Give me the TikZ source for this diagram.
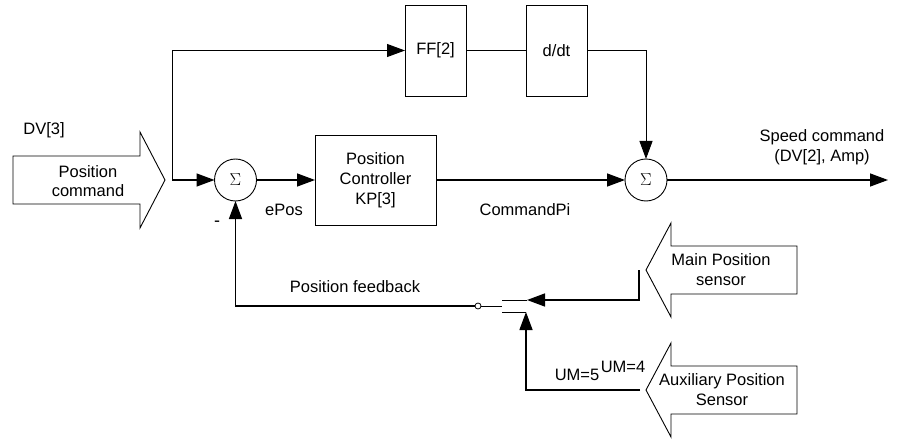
\documentclass[tikz,border=0pt]{standalone}
\usepackage{fontspec}
\setmainfont{Liberation Sans}
\newfontfamily\sigmafont{Liberation Serif}
\usetikzlibrary{arrows.meta}
\tikzset{
 lbl/.style={font=\fontsize{16.5}{20}\selectfont, inner sep=0pt, align=center},
 blk/.style={draw, line width=0.9pt, inner sep=0pt, outer sep=0pt, font=\fontsize{16.5}{20}\selectfont, align=center},
 sumnode/.style={draw, circle, line width=0.9pt, minimum size=42pt, inner sep=0pt, outer sep=0pt, font=\sigmafont\fontsize{19}{19}\selectfont},
 wire/.style={line width=1.4pt},
 thinwire/.style={line width=1pt},
 arr/.style={-{Triangle[length=18pt,width=13pt]}},
 bigarrow/.style={draw, line width=0.9pt, line join=miter},
 pivot/.style={draw, circle, minimum size=6pt, inner sep=0pt, outer sep=0pt, line width=0.8pt, fill=white},
}
\begin{document}
\begin{tikzpicture}[x=1pt,y=-1pt]
\useasboundingbox (0,0) rectangle (897,441);
% big input/sensor arrows
\draw[bigarrow] (13,156) -- (140,156) -- (140,132) -- (165,180) -- (140,228) -- (140,204) -- (13,204) -- cycle;
\node[lbl, font=\fontsize{16.5}{18.5}\selectfont] (pcmd) at (88,181) {Position\\command};
\draw[bigarrow] (797,246) -- (671,246) -- (671,223) -- (646,270) -- (671,317) -- (671,294) -- (797,294) -- cycle;
\node[lbl] (mainsens) at (721,270) {Main Position\\sensor};
\draw[bigarrow] (797,366) -- (671,366) -- (671,343) -- (646,390) -- (671,437) -- (671,414) -- (797,414) -- cycle;
\node[lbl] (auxsens) at (722,390) {Auxiliary Position\\Sensor};
% blocks
\node[blk, minimum width=61pt, minimum height=91pt] (ff) at (435.5,50.5) {FF[2]};
\node[blk, minimum width=61pt, minimum height=91pt] (dd) at (556.5,50.5) {d/dt};
\node[blk, minimum width=121pt, minimum height=90pt] (pc) at (375.5,180) {Position\\Controller\\KP[3]};
\node[sumnode] (s1) at (235.5,180) {$\Sigma$};
\node[sumnode] (s2) at (646,180) {$\Sigma$};
% coordinates
\coordinate (j) at (172,180);
\coordinate (out) at (888,180);
\node[pivot] (piv) at (478,306) {};
\coordinate (sw) at (502,306);
\coordinate (ca) at (502,300);
\coordinate (ta) at (527,300);
\coordinate (cb) at (502,312);
\coordinate (tb) at (526,312);
\coordinate (ms) at (639,270);
\coordinate (as) at (640,390);
% connectors
\draw[thinwire,arr] (j) |- (ff.west);
\draw[wire,arr] (j) -- (s1.west);
\draw[wire,arr] (s1.east) -- (pc.west);
\draw[wire,arr] (pc.east) -- (s2.west);
\draw[wire] (ff.east) -- (dd.west);
\draw[thinwire,arr] (dd.east) -| (s2.north);
\draw[wire,arr] (s2.east) -- (out);
\draw[wire,arr] (piv.west) -| (s1.south);
\draw[thinwire] (piv.east) -- (sw);
\draw[thinwire] (ca) -- (ta);
\draw[thinwire] (cb) -- (tb);
\draw[wire,arr] (ms) |- (ta);
\draw[wire,arr] (as) -| (tb);
% labels
\node[lbl] (dv3) at (44,130) {DV[3]};
\node[lbl] (epos) at (284,210) {ePos};
\node[lbl, font=\fontsize{18}{20}\selectfont] (minus) at (217,224) {-};
\node[lbl] (cmdpi) at (525,210) {CommandPi};
\node[lbl] (speed) at (822,147) {Speed command\\(DV[2], Amp)};
\node[lbl] (pfb) at (355,287) {Position feedback};
\node[lbl] (um5) at (577,375) {UM=5};
\node[lbl] (um4) at (623,367) {UM=4};
\end{tikzpicture}
\end{document}
